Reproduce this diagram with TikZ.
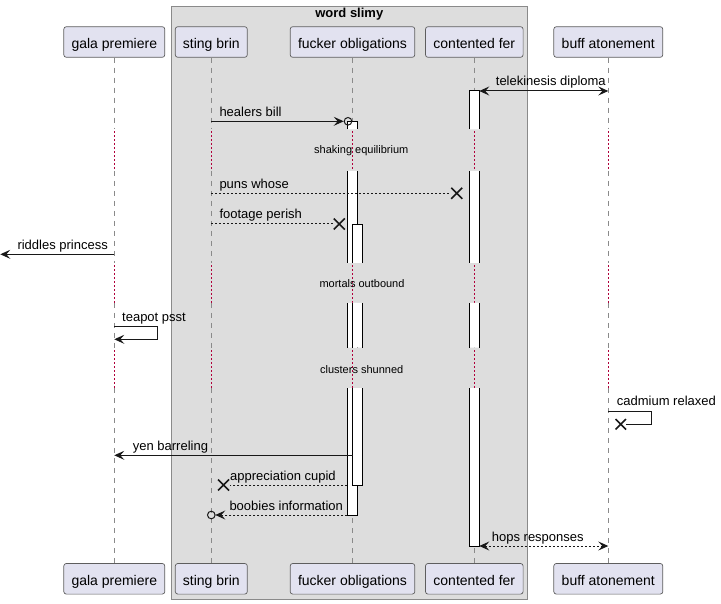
\documentclass[tikz,border=0pt]{standalone}
\usepackage{fontspec}
\setmainfont{Liberation Sans}
\usetikzlibrary{arrows.meta}
\definecolor{partfill}{HTML}{E2E2F0}
\definecolor{partline}{HTML}{5E5E5E}
\definecolor{groupfill}{HTML}{DDDDDD}
\definecolor{groupline}{HTML}{8A8A8A}
\definecolor{lifecol}{HTML}{8A8A8A}
\definecolor{delaycol}{HTML}{B0003A}
\definecolor{msgcol}{HTML}{181818}
\begin{document}
\begin{tikzpicture}[x=1pt,y=-1pt,
  >={Stealth[length=10pt,width=9pt,inset=4pt]},
  participant/.style={draw=partline, fill=partfill, rounded corners=2.5pt,
    line width=0.7pt, minimum height=30.6pt, inner sep=0pt,
    text height=14pt, text depth=0pt,
    font=\fontsize{14}{16}\selectfont},
  grouptitle/.style={font=\fontsize{13}{15}\selectfont\bfseries, inner sep=0pt},
  lifedash/.style={draw=lifecol, line width=0.9pt, dash pattern=on 5pt off 5pt},
  delaydot/.style={fill=delaycol},
  act/.style={draw=black, line width=1pt},
  msg/.style={draw=msgcol, line width=1pt},
  reply/.style={msg, dash pattern=on 2pt off 2pt},
  lbl/.style={font=\fontsize{13}{15}\selectfont, anchor=base west, inner sep=0pt},
  delaylbl/.style={font=\fontsize{11}{13}\selectfont, inner sep=0pt},
  xmark/.style={draw=msgcol, line width=1.6pt},
  omark/.style={draw=msgcol, line width=1pt}
]
\useasboundingbox (0,0) rectangle (721,604);

% group frame
\draw[fill=groupfill, draw=groupline, line width=1pt] (171.3,6.3) rectangle (527.3,599);
\node[grouptitle] (grp) at (349.3,14.5) {word slimy};

% participants, top and bottom
\foreach \n/\x/\w/\t in {gala/114.3/101/gala premiere,
                          sting/211.3/72/sting brin,
                          fucker/352.5/124.6/fucker obligations,
                          contented/474.3/97.6/contented fer,
                          buff/608.3/109/buff atonement}{
  \node[participant, minimum width=\w pt] (\n T) at (\x,42) {\t};
  \node[participant, minimum width=\w pt] (\n B) at (\x,578.8) {\t};
}

% lifelines: dashed, dotted during the three delays
\foreach \n/\lx in {gala/114,sting/211,fucker/352,contented/474,buff/608}{
  \draw[lifedash] (\n T.south) -- (\n T |- 0,129);
  \draw[lifedash] (\n T |- 0,171) -- (\n T |- 0,263);
  \draw[lifedash] (\n T |- 0,303) -- (\n T |- 0,348);
  \draw[lifedash] (\n T |- 0,388) -- (\n B.north);
  \foreach \a in {129,263,348}{
    \foreach \k in {0,...,9}{
      \fill[delaydot] (\lx,\a+2+4*\k) rectangle ++(1,2);
    }
  }
}

% activation of contented fer
\fill[white] (469.3,91) rectangle (479.3,129.3)
             (469.3,171) rectangle (479.3,263)
             (469.3,303) rectangle (479.3,347.7)
             (469.3,388) rectangle (479.3,546);
\draw[act] (469.3,129.3) |- (479.3,91) -- (479.3,129.3);
\draw[act] (469.3,171) -- (469.3,263) (479.3,171) -- (479.3,263);
\draw[act] (469.3,303) -- (469.3,347.7) (479.3,303) -- (479.3,347.7);
\draw[act] (469.3,388) |- (479.3,546) -- (479.3,388);

% outer activation of fucker obligations
\fill[white] (347.3,121.7) rectangle (357.7,129.3)
             (347.3,171) rectangle (357.7,263)
             (347.3,303) rectangle (357.7,347.7)
             (347.3,388) rectangle (357.7,515);
\draw[act] (347.3,129.3) |- (357.7,121.7) -- (357.7,129.3);
\draw[act] (347.3,171) -- (347.3,263) (357.7,171) -- (357.7,263);
\draw[act] (347.3,303) -- (347.3,347.7) (357.7,303) -- (357.7,347.7);
\draw[act] (347.3,388) |- (357.7,515) -- (357.7,388);

% nested activation of fucker obligations
\fill[white] (352.7,224.3) rectangle (362.7,263)
             (352.7,303) rectangle (362.7,347.7)
             (352.7,388) rectangle (362.7,485);
\draw[act] (352.7,263) |- (362.7,224.3) -- (362.7,263);
\draw[act] (352.7,303) -- (352.7,347.7) (362.7,303) -- (362.7,347.7);
\draw[act] (352.7,388) |- (362.7,485) -- (362.7,388);

% delays
\node[delaylbl] (d1) at (361.3,151) {shaking equilibrium};
\node[delaylbl] (d2) at (362,284) {mortals outbound};
\node[delaylbl] (d3) at (361.7,369.3) {clusters shunned};

% message endpoints
\coordinate (m1a) at (479.3,91);    \coordinate (m1b) at (buffT |- 0,91);
\coordinate (m2a) at (stingT |- 0,121.3); \coordinate (m2b) at (343.7,121.3); \coordinate (m2o) at (348,121.3);
\coordinate (m3a) at (stingT |- 0,193.3); \coordinate (m3b) at (450.7,193.3); \coordinate (m3x) at (456.7,193.3);
\coordinate (m4a) at (stingT |- 0,224);   \coordinate (m4b) at (333.3,224);   \coordinate (m4x) at (339.3,224);
\coordinate (m5a) at (galaT |- 0,254.3);  \coordinate (m5b) at (0.3,254.3);
\coordinate (m6a) at (galaT |- 0,326.7);  \coordinate (m6b) at (galaT |- 0,339.3);
\coordinate (m7a) at (buffT |- 0,411);    \coordinate (m7b) at (626,424.3);   \coordinate (m7x) at (620.8,424.3);
\coordinate (m8a) at (352.7,455.3);       \coordinate (m8b) at (galaT |- 0,455.3);
\coordinate (m9a) at (347.3,485);         \coordinate (m9b) at (229.5,485);   \coordinate (m9x) at (223.5,485);
\coordinate (m10a) at (347.3,515);        \coordinate (m10b) at (215.3,515);  \coordinate (m10o) at (211.3,515);
\coordinate (m11a) at (479.3,546);        \coordinate (m11b) at (buffT |- 0,546);

% messages
\draw[msg,<->] (m1a) -- (m1b);
\node[lbl] (l1) at (495.7,86) {telekinesis diploma};

\draw[msg,->] (m2a) -- (m2b);
\draw[omark] (m2o) circle (3.8pt);
\node[lbl] (l2) at (219.3,116.5) {healers bill};

\draw[reply] (m3a) -- (m3b);
\draw[xmark] (m3x) ++(-5.5,-5.5) -- ++(11,11) ++(0,-11) -- ++(-11,11);
\node[lbl] (l3) at (219.3,188.3) {puns whose};

\draw[reply] (m4a) -- (m4b);
\draw[xmark] (m4x) ++(-5.5,-5.5) -- ++(11,11) ++(0,-11) -- ++(-11,11);
\node[lbl] (l4) at (219.3,219) {footage perish};

\draw[msg,->] (m5a) -- (m5b);
\node[lbl] (l5) at (17.3,249.3) {riddles princess};

\draw[msg,->] (m6a) -- ++(43,0) |- (m6b);
\node[lbl] (l6) at (122,321.7) {teapot psst};

\draw[msg] (m7a) -- ++(43.4,0) |- (m7b);
\draw[xmark] (m7x) ++(-5.2,-5.2) -- ++(10.4,10.4) ++(0,-10.4) -- ++(-10.4,10.4);
\node[lbl] (l7) at (616.7,406) {cadmium relaxed};

\draw[msg,->] (m8a) -- (m8b);
\node[lbl] (l8) at (132.7,450.3) {yen barreling};

\draw[reply] (m9a) -- (m9b);
\draw[xmark] (m9x) ++(-5.5,-5.5) -- ++(11,11) ++(0,-11) -- ++(-11,11);
\node[lbl] (l9) at (230,480) {appreciation cupid};

\draw[reply,->] (m10a) -- (m10b);
\draw[omark] (m10o) circle (3.8pt);
\node[lbl] (l10) at (229.3,510) {boobies information};

\draw[reply,<->] (m11a) -- (m11b);
\node[lbl] (l11) at (491.7,541) {hops responses};
\end{tikzpicture}
\end{document}
